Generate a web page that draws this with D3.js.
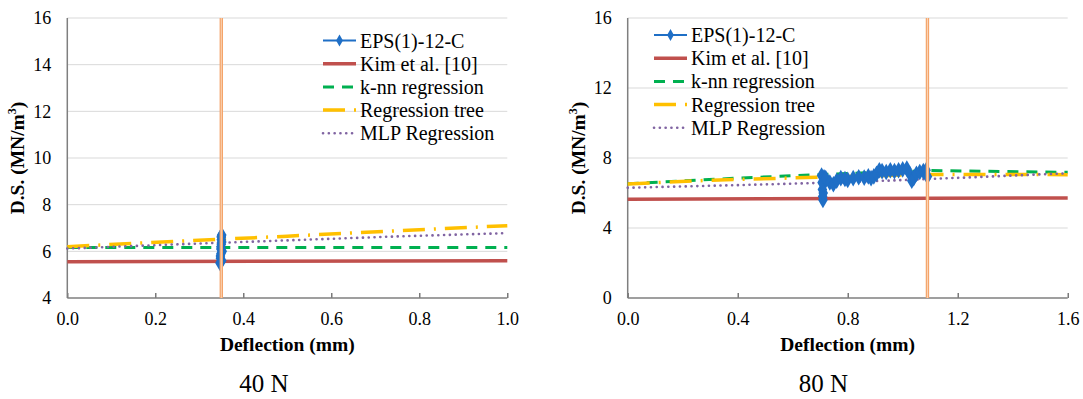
<!DOCTYPE html>
<html>
<head>
<meta charset="utf-8">
<script src="https://cdn.jsdelivr.net/npm/d3@7"></script>
<style>
    body { margin: 0; background: #fff; }
    svg { display: block; }
    svg text { font-family: "Liberation Serif", "Times New Roman", serif; }
    .tick text { font-size: 18px; fill: #000; font-family: "Liberation Serif", "Times New Roman", serif; }
    .axis-title { font-size: 19.5px; font-weight: bold; fill: #000; }
    .caption { font-size: 25px; fill: #000; }
    .legend-label { font-size: 20px; fill: #000; }
</style>
</head>
<body>
<svg id="chart" width="1083" height="399"></svg>
<script>
// series names, shared by both panels
const seriesNames = ['EPS(1)-12-C', 'Kim et al. [10]', 'k-nn regression', 'Regression tree', 'MLP Regression'];

// 40 N panel
const xTicks40 = [0.0, 0.2, 0.4, 0.6, 0.8, 1.0];
const yTicks40 = [4, 6, 8, 10, 12, 14, 16];
const eps40 = [
    [0.347, 5.5], [0.348, 5.7], [0.349, 5.9], [0.349, 6.1], [0.350, 6.3], [0.350, 6.5],
    [0.351, 6.7], [0.350, 6.6], [0.349, 6.2], [0.348, 5.8], [0.351, 5.6], [0.352, 6.0],
    [0.351, 6.4], [0.350, 6.65]
];
const kim40 = [[0, 5.55], [1.0, 5.6]];
const knn40 = [[0, 6.16], [1.0, 6.16]];
const tree40 = [[0, 6.2], [0.25, 6.43], [0.5, 6.65], [0.75, 6.88], [1.0, 7.1]];
const mlp40 = [[0, 6.12], [0.25, 6.3], [0.5, 6.47], [0.75, 6.64], [1.0, 6.78]];
const marker40 = 0.35;

// 80 N panel
const xTicks80 = [0.0, 0.4, 0.8, 1.2, 1.6];
const yTicks80 = [0, 4, 8, 12, 16];
const eps80 = [
    [0.705, 7.0], [0.707, 6.6], [0.708, 6.2], [0.709, 5.8], [0.710, 5.6], [0.711, 6.0],
    [0.712, 6.5], [0.714, 6.9], [0.72, 6.85], [0.735, 6.6], [0.748, 6.5], [0.76, 6.7],
    [0.775, 6.85], [0.79, 6.8], [0.80, 6.75], [0.82, 6.85], [0.84, 6.9], [0.86, 6.88],
    [0.875, 6.95], [0.885, 6.85], [0.895, 6.95], [0.905, 7.1], [0.915, 7.3], [0.925, 7.25],
    [0.94, 7.2], [0.955, 7.3], [0.97, 7.25], [0.985, 7.3], [1.0, 7.35], [1.015, 7.4],
    [1.025, 7.1], [1.033, 6.7], [1.04, 6.85], [1.05, 7.1], [1.062, 7.2], [1.075, 7.25],
    [1.085, 7.3], [1.09, 6.95]
];
const kim80 = [[0, 5.65], [1.6, 5.72]];
const knn80 = [[0, 6.53], [0.4, 6.85], [0.8, 7.12], [1.1, 7.28], [1.6, 7.18]];
const tree80 = [[0, 6.52], [0.3, 6.73], [0.8, 6.95], [1.1, 7.06], [1.6, 7.05]];
const mlp80 = [[0, 6.3], [0.4, 6.45], [0.8, 6.62], [1.1, 6.8], [1.6, 7.13]];
const marker80 = 1.09;

const styles = [
    { color: '#1f6fc6', width: 2.5, dash: null, cap: 'butt', markers: true },
    { color: '#c0504d', width: 3.5, dash: null, cap: 'butt' },
    { color: '#00b050', width: 3, dash: '11,8', cap: 'butt' },
    { color: '#ffc000', width: 3.5, dash: '22,9,2,9', cap: 'butt' },
    { color: '#8064a2', width: 2.6, dash: '0.1,5.7', cap: 'round' }
];

const svg = d3.select('#chart');

drawPanel({
    left: 67.3, top: 18, width: 440, height: 280,
    xMax: 1.0, yMin: 4, yMax: 16, xTicks: xTicks40, yTicks: yTicks40,
    series: [eps40, kim40, knn40, tree40, mlp40], marker: marker40,
    yTitleX: 20, caption: '40 N', captionX: 264,
    legendX: 323, legendY: 40.5
});

drawPanel({
    left: 627.7, top: 18, width: 440, height: 280,
    xMax: 1.6, yMin: 0, yMax: 16, xTicks: xTicks80, yTicks: yTicks80,
    series: [eps80, kim80, knn80, tree80, mlp80], marker: marker80,
    yTitleX: 581, caption: '80 N', captionX: 823.5,
    legendX: 654, legendY: 35
});

function drawPanel(cfg) {
    const g = svg.append('g');
    const bottom = cfg.top + cfg.height;

    const x = d3.scaleLinear().domain([0, cfg.xMax]).range([cfg.left, cfg.left + cfg.width]);
    const y = d3.scaleLinear().domain([cfg.yMin, cfg.yMax]).range([bottom, cfg.top]);

    g.append('g')
        .selectAll('line')
        .data(cfg.yTicks.filter(v => v > cfg.yMin))
        .join('line')
        .attr('x1', cfg.left)
        .attr('x2', cfg.left + cfg.width)
        .attr('y1', v => y(v))
        .attr('y2', v => y(v))
        .attr('stroke', '#d9d9d9')
        .attr('stroke-width', 1);

    const yAxis = g.append('g')
        .attr('transform', `translate(${cfg.left},0)`)
        .call(d3.axisLeft(y).tickValues(cfg.yTicks).tickSize(0).tickPadding(16).tickFormat(d3.format('d')));
    yAxis.select('.domain').remove();
    yAxis.attr('font-family', null).attr('font-size', null);

    const xAxis = g.append('g')
        .attr('transform', `translate(0,${bottom})`)
        .call(d3.axisBottom(x).tickValues(cfg.xTicks).tickSize(-5).tickPadding(14).tickFormat(d3.format('.1f')));
    xAxis.select('.domain').remove();
    xAxis.attr('font-family', null).attr('font-size', null);
    xAxis.selectAll('.tick line').attr('stroke', '#595959').attr('stroke-width', 1.2);

    g.append('line')
        .attr('x1', cfg.left).attr('x2', cfg.left)
        .attr('y1', cfg.top).attr('y2', bottom)
        .attr('stroke', '#7f7f7f').attr('stroke-width', 1.5);
    g.append('line')
        .attr('x1', cfg.left).attr('x2', cfg.left + cfg.width)
        .attr('y1', bottom).attr('y2', bottom)
        .attr('stroke', '#7f7f7f').attr('stroke-width', 1.5);

    const line = d3.line().x(d => x(d[0])).y(d => y(d[1]));

    // draw the model lines first, the measured data on top
    [1, 2, 3, 4, 0].forEach(index => {
        const style = styles[index];
        const data = cfg.series[index];
        g.append('path')
            .datum(data)
            .attr('fill', 'none')
            .attr('stroke', style.color)
            .attr('stroke-width', style.width)
            .attr('stroke-dasharray', style.dash)
            .attr('stroke-linecap', style.cap)
            .attr('d', line);
        if (style.markers) {
            g.append('g')
                .selectAll('path')
                .data(data)
                .join('path')
                .attr('transform', d => `translate(${x(d[0])},${y(d[1])})`)
                .attr('d', d3.symbol(d3.symbolDiamond, 80))
                .attr('fill', style.color);
        }
    });

    // vertical marker line
    const mx = x(cfg.marker);
    g.append('line')
        .attr('x1', mx).attr('x2', mx).attr('y1', cfg.top).attr('y2', bottom)
        .attr('stroke', '#f4a46a').attr('stroke-width', 3.4);
    g.append('line')
        .attr('x1', mx).attr('x2', mx).attr('y1', cfg.top).attr('y2', bottom)
        .attr('stroke', '#fbd5b8').attr('stroke-width', 1);

    const yTitle = g.append('text')
        .attr('class', 'axis-title')
        .attr('transform', `translate(${cfg.yTitleX},${cfg.top + cfg.height / 2}) rotate(-90)`)
        .attr('text-anchor', 'middle')
        .attr('dominant-baseline', 'middle');
    yTitle.append('tspan').text('D.S. (MN/m');
    yTitle.append('tspan').attr('baseline-shift', 'super').attr('font-size', '12px').text('3');
    yTitle.append('tspan').text(')');

    g.append('text')
        .attr('class', 'axis-title')
        .attr('x', cfg.left + cfg.width / 2)
        .attr('y', 351)
        .attr('text-anchor', 'middle')
        .text('Deflection (mm)');

    g.append('text')
        .attr('class', 'caption')
        .attr('x', cfg.captionX)
        .attr('y', 392)
        .attr('text-anchor', 'middle')
        .text(cfg.caption);

    const legend = g.append('g')
        .attr('transform', `translate(${cfg.legendX},${cfg.legendY})`);
    seriesNames.forEach((name, index) => {
        const style = styles[index];
        const item = legend.append('g').attr('transform', `translate(0,${index * 23.2})`);
        item.append('line')
            .attr('x1', 0).attr('x2', 33).attr('y1', 0).attr('y2', 0)
            .attr('stroke', style.color)
            .attr('stroke-width', style.markers ? 2 : style.width)
            .attr('stroke-dasharray', style.dash)
            .attr('stroke-linecap', style.cap);
        if (style.markers) {
            item.append('path')
                .attr('transform', 'translate(16.5,0)')
                .attr('d', d3.symbol(d3.symbolDiamond, 40))
                .attr('fill', style.color);
        }
        item.append('text')
            .attr('class', 'legend-label')
            .attr('x', 37)
            .attr('y', 7)
            .text(name);
    });
}
</script>
</body>
</html>
